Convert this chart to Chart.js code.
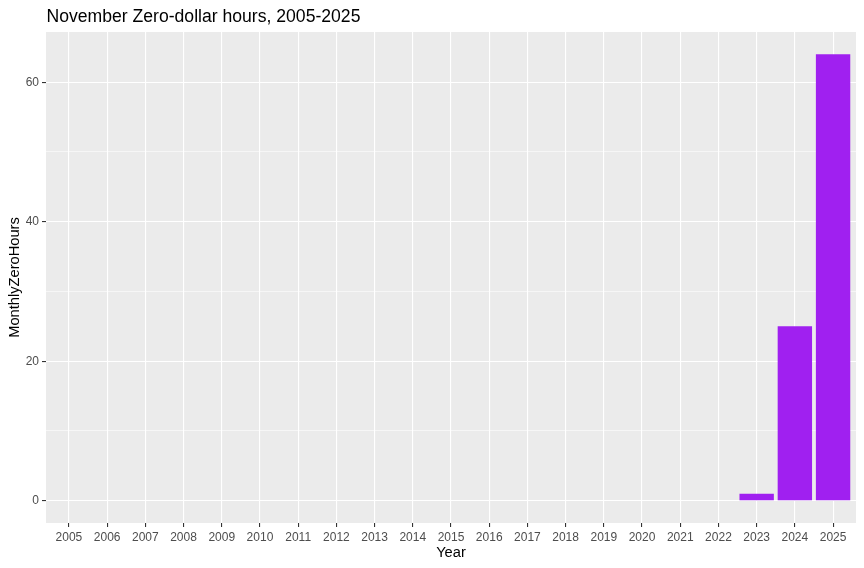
<!DOCTYPE html>
<html>
<head>
<meta charset="utf-8">
<script src="https://cdn.jsdelivr.net/npm/chart.js@4/dist/chart.umd.min.js"></script>
<style>
  html, body { margin: 0; padding: 0; background: #fff; }
  canvas { display: block; }
</style>
</head>
<body>
<canvas id="zeroChart" width="864" height="568"></canvas>
<script>
// data
const years = [2005, 2006, 2007, 2008, 2009, 2010, 2011, 2012, 2013, 2014, 2015,
               2016, 2017, 2018, 2019, 2020, 2021, 2022, 2023, 2024, 2025];
const zeroHours = [0, 0, 0, 0, 0, 0, 0, 0, 0, 0, 0,
                   0, 0, 0, 0, 0, 0, 0, 1, 25, 64];
const yTicks = [0, 10, 20, 30, 40, 50, 60];
const yLabelled = [0, 20, 40, 60];

const chartTitle = 'November Zero-dollar hours, 2005-2025';
const FONT = '"Liberation Sans", Arial, sans-serif';

// grey panel + title like ggplot
const panelPlugin = {
    id: 'panel',
    beforeDraw(chart) {
        const { ctx, chartArea: a } = chart;
        ctx.save();
        ctx.fillStyle = '#ffffff';
        ctx.fillRect(0, 0, chart.width, chart.height);
        ctx.fillStyle = '#EBEBEB';
        ctx.fillRect(a.left, a.top, a.right - a.left, a.bottom - a.top);
        ctx.restore();
    },
    afterDraw(chart) {
        const { ctx, chartArea: a } = chart;
        ctx.save();
        ctx.font = '17.6px ' + FONT;
        ctx.fillStyle = '#000000';
        ctx.textAlign = 'left';
        ctx.textBaseline = 'alphabetic';
        ctx.fillText(chartTitle, a.left + 0.5, 21.7);
        ctx.restore();
    }
};

const points = years.map((y, i) => ({ x: y, y: zeroHours[i] }));

new Chart(document.getElementById('zeroChart'), {
    type: 'bar',
    data: {
        datasets: [{
            data: points,
            backgroundColor: '#A020F0',
            borderWidth: 0,
            barPercentage: 0.9,
            categoryPercentage: 1.0
        }]
    },
    options: {
        responsive: false,
        animation: false,
        layout: { padding: { top: 32, right: 8, left: 0, bottom: 0 } },
        plugins: {
            legend: { display: false },
            tooltip: { enabled: false },
            title: { display: false }
        },
        scales: {
            x: {
                type: 'linear',
                min: 2004.4,
                max: 2025.6,
                offset: false,
                afterBuildTicks: axis => { axis.ticks = years.map(v => ({ value: v })); },
                afterFit: axis => { axis.height = 45; },
                border: { display: false },
                grid: {
                    offset: false,
                    color: '#ffffff',
                    lineWidth: 1.1,
                    tickColor: '#333333',
                    tickLength: 4
                },
                ticks: {
                    autoSkip: false,
                    maxRotation: 0,
                    padding: 3.5,
                    color: '#4D4D4D',
                    font: { family: FONT, size: 12 },
                    callback: v => String(v)
                },
                title: {
                    display: true,
                    text: 'Year',
                    color: '#000000',
                    font: { family: FONT, size: 14.67 },
                    padding: { top: 0, bottom: 6 }
                }
            },
            y: {
                min: -3.2,
                max: 67.2,
                afterBuildTicks: axis => { axis.ticks = yTicks.map(v => ({ value: v })); },
                afterFit: axis => { axis.width = 46; },
                border: { display: false },
                grid: {
                    color: '#ffffff',
                    lineWidth: c => (yLabelled.includes(c.tick.value) ? 1.1 : 0.55),
                    tickColor: c => (yLabelled.includes(c.tick.value) ? '#333333' : 'rgba(0,0,0,0)'),
                    tickLength: 4
                },
                ticks: {
                    padding: 3,
                    color: '#4D4D4D',
                    font: { family: FONT, size: 12 },
                    callback: v => (yLabelled.includes(v) ? String(v) : '')
                },
                title: {
                    display: true,
                    text: 'MonthlyZeroHours',
                    color: '#000000',
                    font: { family: FONT, size: 14.67 },
                    padding: { top: 6, bottom: 0 }
                }
            }
        }
    },
    plugins: [panelPlugin]
});
</script>
</body>
</html>
